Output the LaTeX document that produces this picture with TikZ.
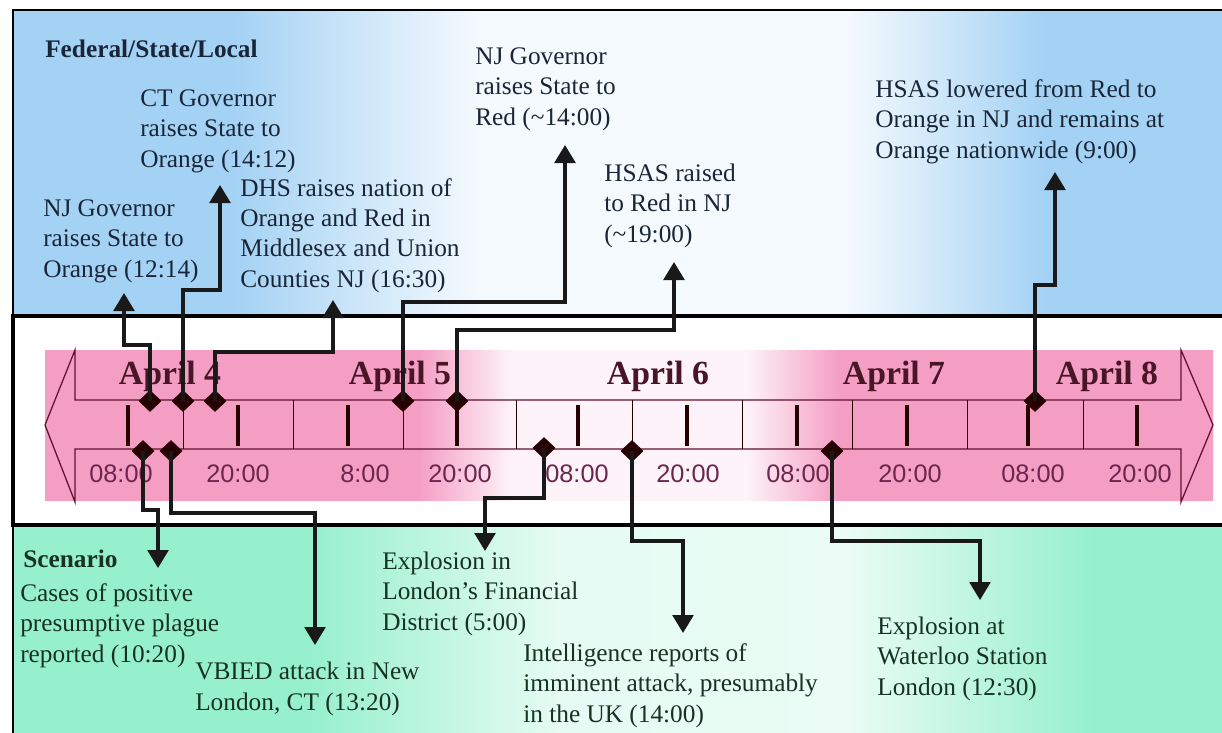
\documentclass[tikz,border=0pt]{standalone}
\usepackage{fontspec}
\setmainfont{Liberation Serif}
\setsansfont{Liberation Sans}
\usetikzlibrary{arrows.meta,shapes.geometric}

\definecolor{skyband}{RGB}{164,210,244}
\definecolor{mintband}{RGB}{150,240,205}
\definecolor{pinkband}{RGB}{244,158,196}
\definecolor{topink}{RGB}{26,38,56}
\definecolor{lowink}{RGB}{24,50,34}
\definecolor{dayink}{RGB}{72,22,38}
\definecolor{hourink}{RGB}{108,38,78}
\definecolor{arrowline}{RGB}{96,18,46}

% band fades (25bp..75bp is the filled area)
\pgfdeclarehorizontalshading{skyfade}{100bp}{color(0bp)=(skyband); color(34bp)=(skyband); color(44bp)=(skyband!12!white); color(59bp)=(skyband!12!white); color(67bp)=(skyband); color(100bp)=(skyband)}
\pgfdeclarehorizontalshading{mintfade}{100bp}{color(0bp)=(mintband); color(37bp)=(mintband); color(47bp)=(mintband!25!white); color(59bp)=(mintband!20!white); color(69bp)=(mintband); color(100bp)=(mintband)}
\pgfdeclarehorizontalshading{pinkfade}{100bp}{color(0bp)=(pinkband); color(41bp)=(pinkband); color(45bp)=(pinkband!12!white); color(55bp)=(pinkband!12!white); color(59bp)=(pinkband); color(100bp)=(pinkband)}

\tikzset{
  note/.style={anchor=base west,align=left,inner sep=0pt,font=\fontsize{18}{21.4}\selectfont},
  day/.style={anchor=base,inner sep=0pt,text=dayink,font=\bfseries\fontsize{24}{26}\selectfont},
  hour/.style={anchor=base,inner sep=0pt,text=hourink,font=\sffamily\fontsize{18}{20}\selectfont},
  event/.style={diamond,fill=black!85!red,inner sep=0pt,minimum width=0.58cm,minimum height=0.55cm},
  link/.style={line width=2.4pt,black!90,-{Triangle[length=0.45cm,width=0.52cm]}},
}

\begin{document}
\begin{tikzpicture}[x=0.025cm,y=-0.025cm]
\useasboundingbox (0,0) rectangle (1222,732);
\clip (0,0) rectangle (1222,732);
% three bands
\shade[shading=skyfade] (13,10) rectangle (1240,316);
\draw[line width=0.8pt] (1240,10) -- (13,10) -- (13,316);
\shade[shading=mintfade] (13,525) rectangle (1240,740);
\draw[line width=0.8pt] (13,525) -- (13,740);
\draw[line width=3pt,fill=white] (13,316) rectangle (1240,525);

% time line
\shade[shading=pinkfade] (45,350) rectangle (1213,500);
\draw[arrowline,line width=0.9pt] (75,400) -- (1181,400) -- (1181,350) -- (1213,425) -- (1181,502) -- (1181,449)
  -- (75,449) -- (75,502) -- (45,425) -- (75,350) -- cycle;
\foreach \x in {128,238,348,457,578,687,797,907,1028,1137}
  \draw[line width=2.8pt,black!85!red] (\x,405) -- (\x,446);
\foreach \x in {183,293,403,516,632,742,852,967,1083}
  \draw[line width=0.7pt,black!85!red] (\x,400) -- (\x,449);

\node[day] (d4) at (170,384) {April 4};
\node[day] (d5) at (400,384) {April 5};
\node[day] (d6) at (658,384) {April 6};
\node[day] (d7) at (894,384) {April 7};
\node[day] (d8) at (1107,384) {April 8};

\foreach \x/\t [count=\i] in {121/08:00,238/20:00,365/8:00,460/20:00,577/08:00,688/20:00,798/08:00,910/20:00,1033/08:00,1140/20:00}
  \node[hour] (h\i) at (\x,482) {\t};

% events on the line
\node[event] (e1) at (150,401) {};
\node[event] (e2) at (183,401) {};
\node[event] (e3) at (215,401) {};
\node[event] (e4) at (403,401) {};
\node[event] (e5) at (457,401) {};
\node[event] (e6) at (1035,401) {};
\node[event] (s1) at (143,451) {};
\node[event] (s2) at (171,451) {};
\node[event] (s3) at (544,448) {};
\node[event] (s4) at (632,451) {};
\node[event] (s5) at (832,451) {};

% federal/state/local notes (placed by last baseline)
\node[note,text=topink] (fsl) at (45,57) {\bfseries Federal/State/Local};
\node[note,text=topink] (ct) at (140,167) {CT Governor\\raises State to\\Orange (14:12)};
\node[note,text=topink] (njo) at (43,277) {NJ Governor\\raises State to\\Orange (12:14)};
\node[note,text=topink] (dhs) at (240,287) {DHS raises nation of\\Orange and Red in\\Middlesex and Union\\Counties NJ (16:30)};
\node[note,text=topink] (njr) at (475,125) {NJ Governor\\raises State to\\Red (\textasciitilde 14:00)};
\node[note,text=topink] (hsr) at (604,242) {HSAS raised\\to Red in NJ\\(\textasciitilde 19:00)};
\node[note,text=topink] (hsl) at (875,158) {HSAS lowered from Red to\\Orange in NJ and remains at\\Orange nationwide (9:00)};

% scenario notes
\node[note,text=lowink] (scn) at (23,567) {\bfseries Scenario};
\node[note,text=lowink] (cas) at (20,662) {Cases of positive\\presumptive plague\\reported (10:20)};
\node[note,text=lowink] (vbi) at (195,710) {VBIED attack in New\\London, CT (13:20)};
\node[note,text=lowink] (fin) at (382,630) {Explosion in\\London’s Financial\\District (5:00)};
\node[note,text=lowink] (int) at (523,722) {Intelligence reports of\\imminent attack, presumably\\in the UK (14:00)};
\node[note,text=lowink] (wat) at (877,695) {Explosion at\\Waterloo Station\\London (12:30)};

% arrow tips under/over the notes
\coordinate (a1) at (124,293);
\coordinate (a2) at (220,185);
\coordinate (a3) at (333,300);
\coordinate (a4) at (565,145);
\coordinate (a5) at (674,262);
\coordinate (a6) at (1055,172);
\coordinate (b1) at (158,568);
\coordinate (b2) at (315,645);
\coordinate (b3) at (485,551);
\coordinate (b4) at (683,633);
\coordinate (b5) at (980,600);

\draw[link] (e1.center) -- ++(0,-56) -| (a1);
\draw[link] (e2.center) -- ++(0,-111) -| (a2);
\draw[link] (e3.center) -- ++(0,-49) -| (a3);
\draw[link] (e4.center) -- ++(0,-99) -| (a4);
\draw[link] (e5.center) -- ++(0,-71) -| (a5);
\draw[link] (e6.center) -- ++(0,-116) -| (a6);
\draw[link] (s1.center) -- ++(0,59) -| (b1);
\draw[link] (s2.center) -- ++(0,62) -| (b2);
\draw[link] (s3.center) -- ++(0,50) -| (b3);
\draw[link] (s4.center) -- ++(0,90) -| (b4);
\draw[link] (s5.center) -- ++(0,90) -| (b5);
\end{tikzpicture}
\end{document}
